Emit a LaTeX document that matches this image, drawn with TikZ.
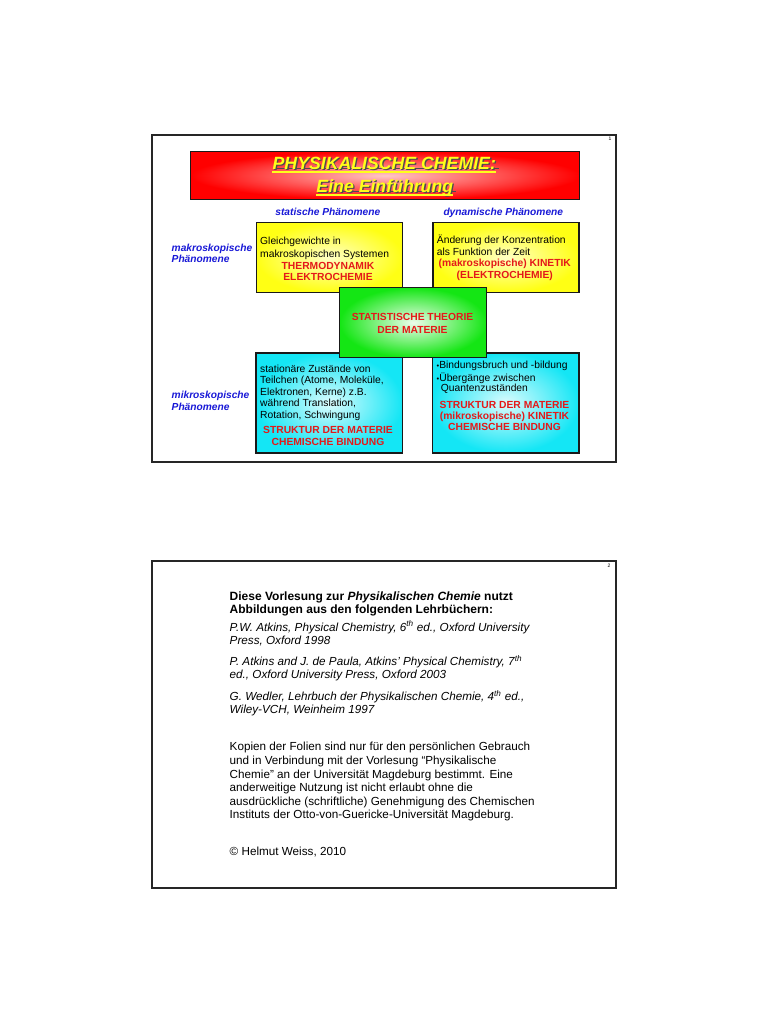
\documentclass[tikz,border=0pt]{standalone}
\usepackage{fontspec}
\setmainfont{Liberation Sans}
\definecolor{labblue}{RGB}{25,25,215}
\definecolor{txtred}{RGB}{228,25,25}
\definecolor{ttlyellow}{RGB}{255,255,25}
\definecolor{boxgreen}{RGB}{20,230,20}
\definecolor{boxcyan}{RGB}{20,230,245}
\definecolor{boxyellow}{RGB}{255,255,20}
\begin{document}
\begin{tikzpicture}[x=1pt,y=-1pt,
  frame/.style={draw=black!85, line width=1.5pt},
  box/.style={draw=black!90, line width=1.2pt, inner sep=0pt, anchor=north west},
  ttl/.style={font=\fontsize{17.7}{23}\selectfont\bfseries\itshape, inner sep=0pt, anchor=base},
  lab/.style={font=\fontsize{10.2}{11}\selectfont\bfseries\itshape, text=labblue, inner sep=0pt},
  body/.style={font=\fontsize{10.3}{12}\selectfont, inner sep=0pt, anchor=base west},
  redtxt/.style={font=\fontsize{10.3}{12}\selectfont\bfseries, text=txtred, inner sep=0pt, anchor=base},
  ptxt/.style={font=\fontsize{11.7}{13.5}\selectfont, inner sep=0pt, anchor=base west},
  pbold/.style={ptxt, font=\fontsize{12}{13.5}\selectfont\bfseries},
  pital/.style={ptxt, font=\fontsize{11.7}{13.5}\selectfont\itshape},
  pnum/.style={font=\fontsize{5}{6}\selectfont, inner sep=0pt, anchor=base}]
\useasboundingbox (0,0) rectangle (768,1024);
\fill[white] (0,0) rectangle (768,1024);

% ---------------- slide 1 ----------------
\draw[frame] (152,135) rectangle (616,462);
\node[pnum] (n1) at (610,141) {1};

\node[box, minimum width=389, minimum height=48.5, inner color=red!22!white, outer color=red] (title) at (190,150.7) {};
\node[ttl, text=black!70] (t1s) at (385.6,170.9) {PHYSIKALISCHE CHEMIE:};
\draw[black!70, line width=1.3pt] ([shift={(1.3,-2.4)}]t1s.base west) -- ([shift={(1.3,-2.4)}]t1s.base east);
\node[ttl, text=ttlyellow] (t1) at (384.3,169.6) {PHYSIKALISCHE CHEMIE:};
\draw[ttlyellow, line width=1.3pt] ([yshift=-2.4]t1.base west) -- ([yshift=-2.4]t1.base east);
\node[ttl, text=black!70] (t2s) at (386.1,193.8) {Eine Einführung};
\draw[black!70, line width=1.3pt] ([shift={(1.3,-2.4)}]t2s.base west) -- ([shift={(1.3,-2.4)}]t2s.base east);
\node[ttl, text=ttlyellow] (t2) at (384.8,192.5) {Eine Einführung};
\draw[ttlyellow, line width=1.3pt] ([yshift=-2.4]t2.base west) -- ([yshift=-2.4]t2.base east);

\node[lab, anchor=base] (stat) at (327.8,215.3) {statische Phänomene};
\node[lab, anchor=base] (dyn) at (503.3,215.3) {dynamische Phänomene};
\node[lab, anchor=base west] (mak1) at (171.5,251.8) {makroskopische};
\node[lab, anchor=base west] (mak2) at (171.5,262.8) {Phänomene};
\node[lab, anchor=base west] (mik1) at (171.5,398.7) {mikroskopische};
\node[lab, anchor=base west] (mik2) at (171.5,410.2) {Phänomene};

% yellow boxes
\node[box, minimum width=146.5, minimum height=69.5, inner color=boxyellow!25!white, outer color=boxyellow] (y1) at (255.5,222) {};
\node[body] (y1a) at (260,244.5) {Gleichgewichte in};
\node[body] (y1b) at (260,257.5) {makroskopischen Systemen};
\node[redtxt] (y1c) at (328,269.3) {THERMODYNAMIK};
\node[redtxt] (y1d) at (328,280.5) {ELEKTROCHEMIE};

\node[box, minimum width=146, minimum height=69.5, inner color=boxyellow!25!white, outer color=boxyellow] (y2) at (432.3,222) {};
\node[body] (y2a) at (436.7,243.8) {Änderung der Konzentration};
\node[body] (y2b) at (436.7,255) {als Funktion der Zeit};
\node[redtxt] (y2c) at (504.8,266.6) {(makroskopische) KINETIK};
\node[redtxt] (y2d) at (504.8,278.2) {(ELEKTROCHEMIE)};

% cyan boxes
\node[box, minimum width=146.5, minimum height=100, inner color=boxcyan!15!white, outer color=boxcyan] (c1) at (255.3,352.3) {};
\node[body] (c1a) at (260,372) {stationäre Zustände von};
\node[body] (c1b) at (260,383.2) {Teilchen (Atome, Moleküle,};
\node[body] (c1c) at (260,395.5) {Elektronen, Kerne) z.B.};
\node[body] (c1d) at (260,406.2) {während Translation,};
\node[body] (c1e) at (260,418.7) {Rotation, Schwingung};
\node[redtxt] (c1f) at (328,433.6) {STRUKTUR DER MATERIE};
\node[redtxt] (c1g) at (328,445.3) {CHEMISCHE BINDUNG};

\node[box, minimum width=146.5, minimum height=100, inner color=boxcyan!15!white, outer color=boxcyan] (c2) at (431.8,352.3) {};
\node[body] (c2a) at (436.5,368) {{\fontsize{7.5}{7}\selectfont •}Bindungsbruch und -bildung};
\node[body] (c2b) at (436.5,381.3) {{\fontsize{7.5}{7}\selectfont •}Übergänge zwischen};
\node[body] (c2c) at (440.7,391.5) {Quantenzuständen};
\node[redtxt] (c2d) at (504.5,408) {STRUKTUR DER MATERIE};
\node[redtxt] (c2e) at (504.5,419.6) {(mikroskopische) KINETIK};
\node[redtxt] (c2f) at (504.5,430.3) {CHEMISCHE BINDUNG};

% green box
\node[box, minimum width=147, minimum height=70, inner color=boxgreen!8!white, outer color=boxgreen] (g) at (339,287) {};
\node[redtxt] (ga) at (412.5,320.7) {STATISTISCHE THEORIE};
\node[redtxt] (gb) at (412.5,333.3) {DER MATERIE};

% ---------------- slide 2 ----------------
\draw[frame] (152,561) rectangle (616,888);
\node[pnum] (n2) at (609,567.5) {2};

\node[pbold] (s1) at (229.5,600) {Diese Vorlesung zur \textit{Physikalischen Chemie} nutzt};
\node[pbold] (s2) at (229.5,613.3) {Abbildungen aus den folgenden Lehrbüchern:};
\node[pital] (r1a) at (229.5,631.2) {P.W. Atkins, Physical Chemistry, 6\textsuperscript{th} ed., Oxford University};
\node[pital] (r1b) at (229.5,644.5) {Press, Oxford 1998};
\node[pital] (r2a) at (229.5,665.7) {P. Atkins and J. de Paula, Atkins’ Physical Chemistry, 7\textsuperscript{th}};
\node[pital] (r2b) at (229.5,678) {ed., Oxford University Press, Oxford 2003};
\node[pital] (r3a) at (229.5,700.5) {G. Wedler, Lehrbuch der Physikalischen Chemie, 4\textsuperscript{th} ed.,};
\node[pital] (r3b) at (229.5,713) {Wiley-VCH, Weinheim 1997};

\node[ptxt] (k1) at (229.5,750.7) {Kopien der Folien sind nur für den persönlichen Gebrauch};
\node[ptxt] (k2) at (229.5,764.5) {und in Verbindung mit der Vorlesung “Physikalische};
\node[ptxt] (k3) at (229.5,778.2) {Chemie” an der Universität Magdeburg bestimmt. Eine};
\node[ptxt] (k4) at (229.5,791.7) {anderweitige Nutzung ist nicht erlaubt ohne die};
\node[ptxt] (k5) at (229.5,805) {ausdrückliche (schriftliche) Genehmigung des Chemischen};
\node[ptxt] (k6) at (229.5,818.3) {Instituts der Otto-von-Guericke-Universität Magdeburg.};
\node[ptxt] (cp) at (229.5,855.7) {© Helmut Weiss, 2010};
\end{tikzpicture}
\end{document}
